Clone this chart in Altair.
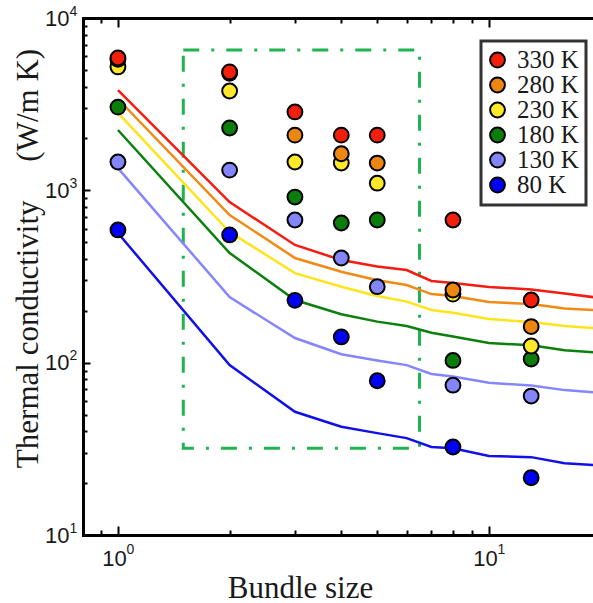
import altair as alt
import pandas as pd

# ---------------- data ----------------
temps = ["330 K", "280 K", "230 K", "180 K", "130 K", "80 K"]
point_colors = ["#f21f0c", "#ee8612", "#fde92a", "#0b7d0b", "#8585fa", "#0000f5"]
line_colors = ["#f51b10", "#f08a14", "#ffe41c", "#0c800c", "#8585ff", "#1010e8"]

bundle_pts = [1, 2, 3, 4, 5, 8, 13]
pts_330 = [5860, 4870, 2850, 2090, 2090, 673, 231]
pts_280 = [5750, 4780, 2090, 1630, 1440, 264, 162]
pts_230 = [5200, 3770, 1460, 1440, 1100, 250, 125]
pts_180 = [3040, 2300, 914, 646, 673, 103, 105]
pts_130 = [1460, 1310, 673, 405, 276, 74, 64]
pts_80 = [589, 551, 230, 141, 78.5, 32.4, 21.5]

bundle_line = [1, 2, 3, 4, 5, 6, 7, 8, 10, 13, 16, 20]
line_330 = [3819, 855, 482, 394, 361, 345, 298, 290, 275, 266, 252, 237]
line_280 = [3388, 719, 405, 337, 301, 282, 250, 244, 225, 219, 206, 201]
line_230 = [2812, 573, 331, 276, 244, 226, 202, 195, 179, 172, 163, 158]
line_180 = [2239, 433, 231, 191, 173, 163, 149, 142, 130, 126, 118, 114]
line_130 = [1346, 240, 139, 112, 103, 96.8, 85.9, 83.0, 76.4, 73.6, 69.3, 66.9]
line_80 = [565, 96.8, 51.9, 42.5, 39.0, 36.5, 32.4, 31.9, 28.7, 28.3, 26.1, 25.3]

box_x = [1.5, 6.5]
box_y = [31.9, 6520]

x_major = [1, 10]
x_minor = [0.9, 2, 3, 4, 5, 6, 7, 8, 9]
y_major = [10, 100, 1000, 10000]
y_minor = [20, 30, 40, 50, 60, 70, 80, 90,
           200, 300, 400, 500, 600, 700, 800, 900,
           2000, 3000, 4000, 5000, 6000, 7000, 8000, 9000]

# ---------------- tables ----------------
pts_series = {"330 K": pts_330, "280 K": pts_280, "230 K": pts_230,
              "180 K": pts_180, "130 K": pts_130, "80 K": pts_80}
line_series = {"330 K": line_330, "280 K": line_280, "230 K": line_230,
               "180 K": line_180, "130 K": line_130, "80 K": line_80}

rows = []
for t in reversed(temps):  # 80 K first so 330 K is drawn on top
    for b, v in zip(bundle_pts, pts_series[t]):
        rows.append({"bundle": b, "k": v, "temp": t})
pts_df = pd.DataFrame(rows)

rows = []
for t in temps:
    for b, v in zip(bundle_line, line_series[t]):
        rows.append({"size": b, "kappa": v, "series": t})
line_df = pd.DataFrame(rows)

box_df = pd.DataFrame({"x1": [box_x[0]], "x2": [box_x[1]], "y1": [box_y[0]], "y2": [box_y[1]]})

# ---------------- scales & axes ----------------
xs = alt.Scale(type="log", domain=[0.805, 19.08], nice=False)
ys = alt.Scale(type="log", domain=[10, 10000], nice=False)

SANS = "Liberation Sans"
SERIF = "Liberation Serif"
INK = "#1a1a1a"


def tick_axis(orient, values, size, **kw):
    base = dict(orient=orient, values=values, tickSize=size, offset=-size, domain=False,
                labels=False, grid=False, ticks=True, tickColor="black", tickWidth=2,
                title="")
    base.update(kw)
    return alt.Axis(**base)


bottom_major = tick_axis(
    "bottom", x_major, 9,
    labels=True, labelExpr="'10'", labelFont=SANS, labelFontSize=22, labelColor=INK,
    labelAlign="center", labelBaseline="top", labelOffset=-4, labelPadding=13,
    labelFlush=False, labelOverlap=False,
    title="Bundle size", titleFont=SERIF, titleFontSize=31, titleFontWeight="normal",
    titleColor=INK, titleX=217, titleY=71, titleAlign="center", titleBaseline="alphabetic",
)
bottom_minor = tick_axis("bottom", x_minor, 5)
top_major = tick_axis("top", x_major, 9)
top_minor = tick_axis("top", x_minor, 5)

bottom_exp = alt.Axis(
    orient="bottom", values=x_major, ticks=False, tickSize=0, offset=0, grid=False,
    domain=True, domainColor="black", domainWidth=3, domainCap="square",
    labels=True, labelExpr="'' + round(log(datum.value) / LN10)", labelFont=SANS,
    labelFontSize=14, labelColor=INK, labelAlign="left", labelBaseline="top",
    labelOffset=8, labelPadding=7, labelFlush=False, labelOverlap=False, title="",
)
top_domain = alt.Axis(
    orient="top", ticks=False, tickSize=0, offset=0, grid=False, labels=False,
    domain=True, domainColor="black", domainWidth=3, domainCap="square", title="",
)

left_major = tick_axis(
    "left", y_major, 7,
    labels=True, labelExpr="'10'", labelFont=SANS, labelFontSize=22, labelColor=INK,
    labelAlign="right", labelBaseline="middle", labelPadding=14,
    labelFlush=False, labelOverlap=False,
    title="Thermal conductivity\u00a0\u00a0\u00a0\u00a0\u00a0(W/m K)", titleFont=SERIF,
    titleFontSize=31, titleFontWeight="normal", titleColor=INK, titleAngle=270,
    titleX=-62, titleY=240, titleAlign="center", titleBaseline="middle",
)
left_minor = tick_axis("left", y_minor, 4)
left_exp = alt.Axis(
    orient="left", values=y_major, ticks=False, tickSize=0, offset=0, grid=False,
    domain=True, domainColor="black", domainWidth=3, domainCap="square",
    labels=True, labelExpr="'' + round(log(datum.value) / LN10)", labelFont=SANS,
    labelFontSize=14, labelColor=INK, labelAlign="left", labelBaseline="middle",
    labelOffset=-7, labelPadding=14, labelFlush=False, labelOverlap=False, title="",
)

# ---------------- layers ----------------
# the line scale lists the series in the opposite order so its (hidden) legend
# is not merged with the point legend
lines = alt.Chart(line_df).mark_line(clip=True, strokeWidth=2.5).encode(
    x=alt.X("size:Q", scale=xs, axis=bottom_major),
    y=alt.Y("kappa:Q", scale=ys, axis=left_major),
    stroke=alt.Stroke("series:N",
                      scale=alt.Scale(domain=temps[::-1], range=line_colors[::-1]),
                      legend=None),
    detail="series:N",
)

points = alt.Chart(pts_df).mark_circle(size=220, stroke="black", strokeWidth=2, opacity=1).encode(
    x=alt.X("bundle:Q", scale=xs, axis=bottom_minor),
    y=alt.Y("k:Q", scale=ys, axis=left_minor),
    fill=alt.Fill(
        "temp:N",
        scale=alt.Scale(domain=temps, range=point_colors),
        legend=alt.Legend(
            title=None, orient="none", legendX=398, legendY=23, symbolType="circle",
            symbolSize=220, symbolStrokeColor="black", symbolStrokeWidth=2, symbolOpacity=1,
            labelFont=SERIF, labelFontSize=25, labelColor=INK, labelOffset=7,
            labelBaseline="middle", labelExpr="datum.label == '80 K' ? '\u00a080 K' : datum.label",
            padding=7, rowPadding=0, symbolOffset=-3, clipHeight=24,
            strokeColor="#333333", fillColor="white",
        ),
    ),
)

box = alt.Chart(box_df).mark_rect(
    fillOpacity=0, stroke="#1fb450", strokeWidth=3, strokeDash=[16, 12, 3, 12]
).encode(
    x=alt.X("x1:Q", scale=xs, axis=bottom_exp),
    x2="x2:Q",
    y=alt.Y("y1:Q", scale=ys, axis=left_exp),
    y2="y2:Q",
)

ghost1 = alt.Chart(pts_df).mark_point(opacity=0).encode(
    x=alt.X("bundle:Q", scale=xs, axis=top_major),
    y=alt.Y("k:Q", scale=ys, axis=None),
)
ghost2 = alt.Chart(pts_df).mark_point(opacity=0).encode(
    x=alt.X("bundle:Q", scale=xs, axis=top_minor),
    y=alt.Y("k:Q", scale=ys, axis=None),
)
ghost3 = alt.Chart(pts_df).mark_point(opacity=0).encode(
    x=alt.X("bundle:Q", scale=xs, axis=top_domain),
    y=alt.Y("k:Q", scale=ys, axis=None),
)

chart = (
    alt.layer(box, lines, points, ghost1, ghost2, ghost3)
    .resolve_axis(x="independent", y="independent")
    .properties(
        width=510, height=517,
        autosize=alt.AutoSizeParams(type="none"),
        padding={"left": 83, "top": 18, "right": 0, "bottom": 68},
        background="white",
    )
    .configure_view(strokeWidth=0)
    .configure_legend(strokeWidth=3)
)

chart.save("out.html", embed_options={"renderer": "svg", "actions": False})
